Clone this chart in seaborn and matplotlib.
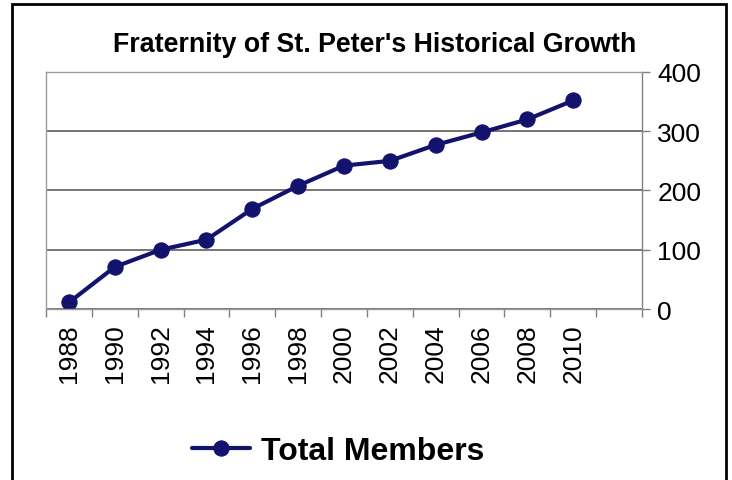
import matplotlib
matplotlib.use("Agg")
import matplotlib.pyplot as plt
import seaborn as sns
import pandas as pd
import numpy as np
from matplotlib.ticker import FixedLocator

years = ['1988', '1990', '1992', '1994', '1996', '1998', '2000',
         '2002', '2004', '2006', '2008', '2010']
members = [11, 71, 100, 117, 169, 208, 242, 250, 277, 298, 320, 352]
yticks = [0, 100, 200, 300, 400]

df = pd.DataFrame({'Year': years, 'Total Members': members})

sns.set_style("white")
plt.rcParams['font.family'] = ['Liberation Sans', 'DejaVu Sans']
plt.rcParams['text.color'] = 'black'
plt.rcParams['xtick.labelcolor'] = 'black'
plt.rcParams['ytick.labelcolor'] = 'black'

fig = plt.figure(figsize=(7.32, 4.81), dpi=100)
ax = fig.add_axes([46/732, 1-310/481, (642-46)/732, (310-73)/481])

navy = '#13136e'
sns.lineplot(data=df, x='Year', y='Total Members', ax=ax, color=navy,
             linewidth=3, marker='o', markersize=11, markeredgecolor=navy,
             label='Total Members', sort=False)

ax.set_xlim(-0.5, len(years) + 0.5)
ax.set_ylim(0, 400)
ax.set_xlabel('')
ax.set_ylabel('')

ax.yaxis.tick_right()
ax.set_yticks(yticks)
ax.tick_params(axis='y', labelsize=19, length=6, width=1, color='#808080',
               direction='out', pad=5, right=True, left=False)
ax.set_xticks(range(len(years)))
ax.set_xticklabels(years, rotation=90, fontsize=19)
ax.tick_params(axis='x', which='major', length=0, pad=10)
ax.xaxis.set_minor_locator(FixedLocator(np.arange(-0.5, len(years) + 1, 1)))
ax.tick_params(axis='x', which='minor', length=6, width=1, color='#808080',
               direction='out', bottom=True)

ax.grid(axis='y', color='#6a6a6a', linewidth=1.3)
for s in ax.spines.values():
    s.set_color('#9a9a9a')
    s.set_linewidth(1)
ax.spines['right'].set_color('#808080')

fig.text(0.512, 1-45/481, "Fraternity of St. Peter's Historical Growth",
         ha='center', va='center', fontsize=19.3, fontweight='bold')

leg = ax.legend(loc='center', bbox_to_anchor=(0.462, 1-452/481),
                bbox_transform=fig.transFigure, frameon=False,
                prop={'size': 23, 'weight': 'bold'}, handlelength=1.8,
                handletextpad=0.35)

fig.patches.append(plt.Rectangle((12/732, -0.05), (726-12)/732, 1.05-5/481,
                                 transform=fig.transFigure, fill=False,
                                 edgecolor='black', linewidth=2))

fig.savefig('out.png', dpi=100)
